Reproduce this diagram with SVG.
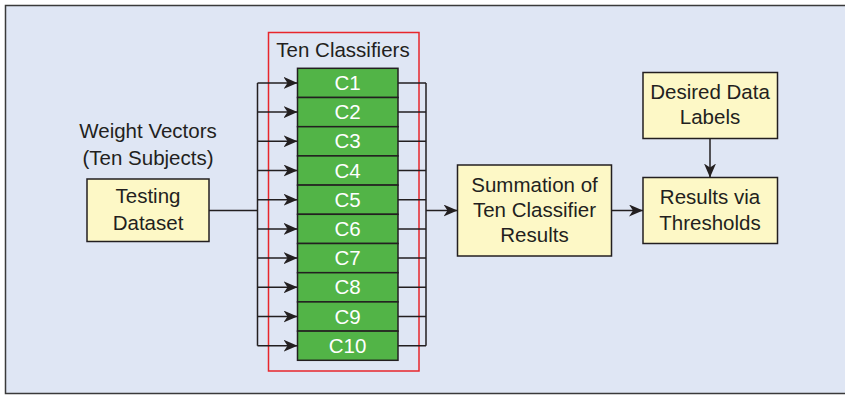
<svg xmlns="http://www.w3.org/2000/svg" width="845" height="395" viewBox="0 0 845 395">
<style>
text{font-family:"Liberation Sans",Arial,sans-serif;font-size:20.5px;fill:#231f20;text-anchor:middle}
.box{fill:#fdf8c6;stroke:#231f20;stroke-width:1.5}
.cls{fill:#52b447;stroke:#231f20;stroke-width:1.5}
.cl{fill:#ffffff}
.ln{fill:none;stroke:#231f20;stroke-width:1.5}
.ar{fill:none;stroke:#231f20;stroke-width:1.5;marker-end:url(#ah)}
</style>
<defs>
<marker id="ah" markerUnits="userSpaceOnUse" viewBox="0 0 14 12" refX="14" refY="6" markerWidth="14" markerHeight="12" orient="auto">
<path d="M0,0 L14,6 L0,12 L4,6 z" fill="#231f20"/>
</marker>
</defs>
<rect x="5.5" y="5.5" width="845" height="388" fill="#dfe6f4" stroke="#3a3a3a" stroke-width="1.5"/>
<g id="weight-label">
<text x="148" y="138">Weight Vectors</text>
<text x="148" y="164.5">(Ten Subjects)</text>
</g>
<g id="testing-dataset">
<rect class="box" x="87" y="179" width="122" height="62.5"/>
<text x="148" y="203">Testing</text>
<text x="148" y="229.5">Dataset</text>
</g>
<g id="ten-classifiers">
<rect x="268.5" y="32.5" width="150.5" height="338.5" fill="none" stroke="#e8262b" stroke-width="1.5"/>
<text x="343" y="56.5">Ten Classifiers</text>
</g>
<g id="C1"><rect class="cls" x="297.5" y="68.3" width="100.5" height="29.2"/><text class="cl" x="347.5" y="90">C1</text></g>
<g id="C2"><rect class="cls" x="297.5" y="97.5" width="100.5" height="29.2"/><text class="cl" x="347.5" y="119.2">C2</text></g>
<g id="C3"><rect class="cls" x="297.5" y="126.7" width="100.5" height="29.2"/><text class="cl" x="347.5" y="148.4">C3</text></g>
<g id="C4"><rect class="cls" x="297.5" y="155.9" width="100.5" height="29.2"/><text class="cl" x="347.5" y="177.6">C4</text></g>
<g id="C5"><rect class="cls" x="297.5" y="185.1" width="100.5" height="29.2"/><text class="cl" x="347.5" y="206.8">C5</text></g>
<g id="C6"><rect class="cls" x="297.5" y="214.3" width="100.5" height="29.2"/><text class="cl" x="347.5" y="236">C6</text></g>
<g id="C7"><rect class="cls" x="297.5" y="243.5" width="100.5" height="29.2"/><text class="cl" x="347.5" y="265.2">C7</text></g>
<g id="C8"><rect class="cls" x="297.5" y="272.7" width="100.5" height="29.2"/><text class="cl" x="347.5" y="294.4">C8</text></g>
<g id="C9"><rect class="cls" x="297.5" y="301.9" width="100.5" height="29.2"/><text class="cl" x="347.5" y="323.6">C9</text></g>
<g id="C10"><rect class="cls" x="297.5" y="331.1" width="100.5" height="29.2"/><text class="cl" x="347.5" y="352.8">C10</text></g>
<g id="summation">
<rect class="box" x="457.5" y="165" width="154" height="91"/>
<text x="534.5" y="191.5">Summation of</text>
<text x="534.5" y="216.5">Ten Classifier</text>
<text x="534.5" y="241.5">Results</text>
</g>
<g id="desired-labels">
<rect class="box" x="643" y="72.5" width="134.5" height="66"/>
<text x="710" y="98.5">Desired Data</text>
<text x="710" y="124">Labels</text>
</g>
<g id="results-thresholds">
<rect class="box" x="643" y="177.5" width="134.5" height="66"/>
<text x="710" y="203.5">Results via</text>
<text x="710" y="229.5">Thresholds</text>
</g>
<g id="connectors">
<path class="ln" d="M209,210.5 H257.5 M257.5,82.9 V345.7"/>
<path class="ar" d="M257.5,82.9 H297.5"/>
<path class="ar" d="M257.5,112.1 H297.5"/>
<path class="ar" d="M257.5,141.3 H297.5"/>
<path class="ar" d="M257.5,170.5 H297.5"/>
<path class="ar" d="M257.5,199.7 H297.5"/>
<path class="ar" d="M257.5,228.9 H297.5"/>
<path class="ar" d="M257.5,258.1 H297.5"/>
<path class="ar" d="M257.5,287.3 H297.5"/>
<path class="ar" d="M257.5,316.5 H297.5"/>
<path class="ar" d="M257.5,345.7 H297.5"/>
<path class="ln" d="M398,82.9 H426 M398,112.1 H426 M398,141.3 H426 M398,170.5 H426 M398,199.7 H426 M398,228.9 H426 M398,258.1 H426 M398,287.3 H426 M398,316.5 H426 M398,345.7 H426 M426,82.9 V345.7"/>
<path class="ar" d="M426,210.5 H457.5"/>
<path class="ar" d="M611.5,210.5 H643"/>
<path class="ar" d="M710,138.5 V177.5"/>
</g>
</svg>
